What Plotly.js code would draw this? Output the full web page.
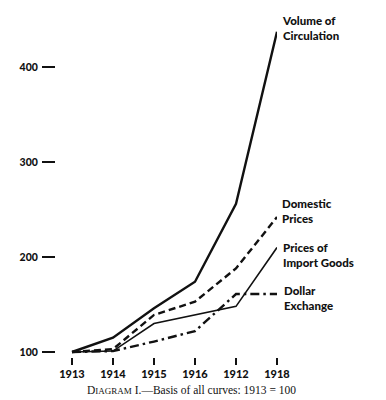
<!DOCTYPE html>
<html>
<head>
<meta charset="utf-8">
<script src="https://cdn.plot.ly/plotly-3.0.1.min.js"></script>
<style>html,body{margin:0;padding:0;background:#fff;}#chart{width:386px;height:400px;}</style>
</head>
<body>
<div id="chart"></div>
<script>
const years = ["1913", "1914", "1915", "1916", "1912", "1918"];
const volumeOfCirculation = [100, 115, 146, 174, 256, 437];
const domesticPrices = [100, 103, 139, 153, 188, 242];
const importPrices = [100, 101, 130, 139, 148, 210];
const dollarExchange = [100, 101, 111, 122, 161, 161];
const yTicks = [100, 200, 300, 400];
const seriesLabels = ["Volume of<br>Circulation", "Domestic<br>Prices", "Prices of<br>Import Goods", "Dollar<br>Exchange"];
const caption = "D<span style='font-size:9px'>IAGRAM</span> I.—Basis of all curves: 1913 = 100";

const xIdx = years.map((_, i) => i);
const ink = "#111";

const traces = [
  {x: xIdx, y: importPrices, mode: "lines", line: {color: ink, width: 1.6}},
  {x: xIdx, y: dollarExchange, mode: "lines", line: {color: ink, width: 2.4, dash: "9px,4px,2.5px,4px"}},
  {x: xIdx, y: domesticPrices, mode: "lines", line: {color: ink, width: 2.4, dash: "7px,4px"}},
  {x: xIdx, y: volumeOfCirculation, mode: "lines", line: {color: ink, width: 2.4}}
];

const labelFont = {family: "Lato, 'DejaVu Sans', sans-serif", size: 11.5, color: ink, weight: 900};
const labelPos = [[1.015, 1.036], [1.015, 0.486], [1.018, 0.354], [1.021, 0.225]];

const annotations = seriesLabels.map((t, i) => ({
  x: labelPos[i][0], y: labelPos[i][1], xref: "paper", yref: "paper",
  text: t, showarrow: false, xanchor: "left", yanchor: "top", align: "left",
  font: labelFont
}));
annotations.push({
  x: 0.611, y: -0.099, xref: "paper", yref: "paper", showarrow: false, xanchor: "center", yanchor: "middle",
  text: caption,
  font: {family: "'Liberation Serif', 'DejaVu Serif', serif", size: 11.5, color: ink}
});

const layout = {
  width: 386, height: 400,
  margin: {l: 56, r: 109, t: 24, b: 43},
  paper_bgcolor: "#fff", plot_bgcolor: "#fff",
  showlegend: false,
  xaxis: {
    range: [-0.39, 5.0], tickvals: xIdx, ticktext: years,
    showgrid: false, zeroline: false, showline: false,
    ticks: "outside", ticklen: 7, tickwidth: 1.8, tickcolor: ink,
    tickfont: {family: "Lato, 'DejaVu Sans', sans-serif", size: 11, color: ink, weight: 900}
  },
  yaxis: {
    range: [94.74, 445.26], tickvals: yTicks, ticktext: yTicks.map(String),
    showgrid: false, zeroline: false, showline: false,
    ticks: "outside", ticklen: 13, tickwidth: 1.6, tickcolor: ink, ticklabelstandoff: 2,
    tickfont: {family: "Lato, 'DejaVu Sans', sans-serif", size: 10.5, color: ink, weight: 900}
  },
  annotations: annotations
};

Plotly.newPlot("chart", traces, layout, {displayModeBar: false, staticPlot: true});
</script>
</body>
</html>
